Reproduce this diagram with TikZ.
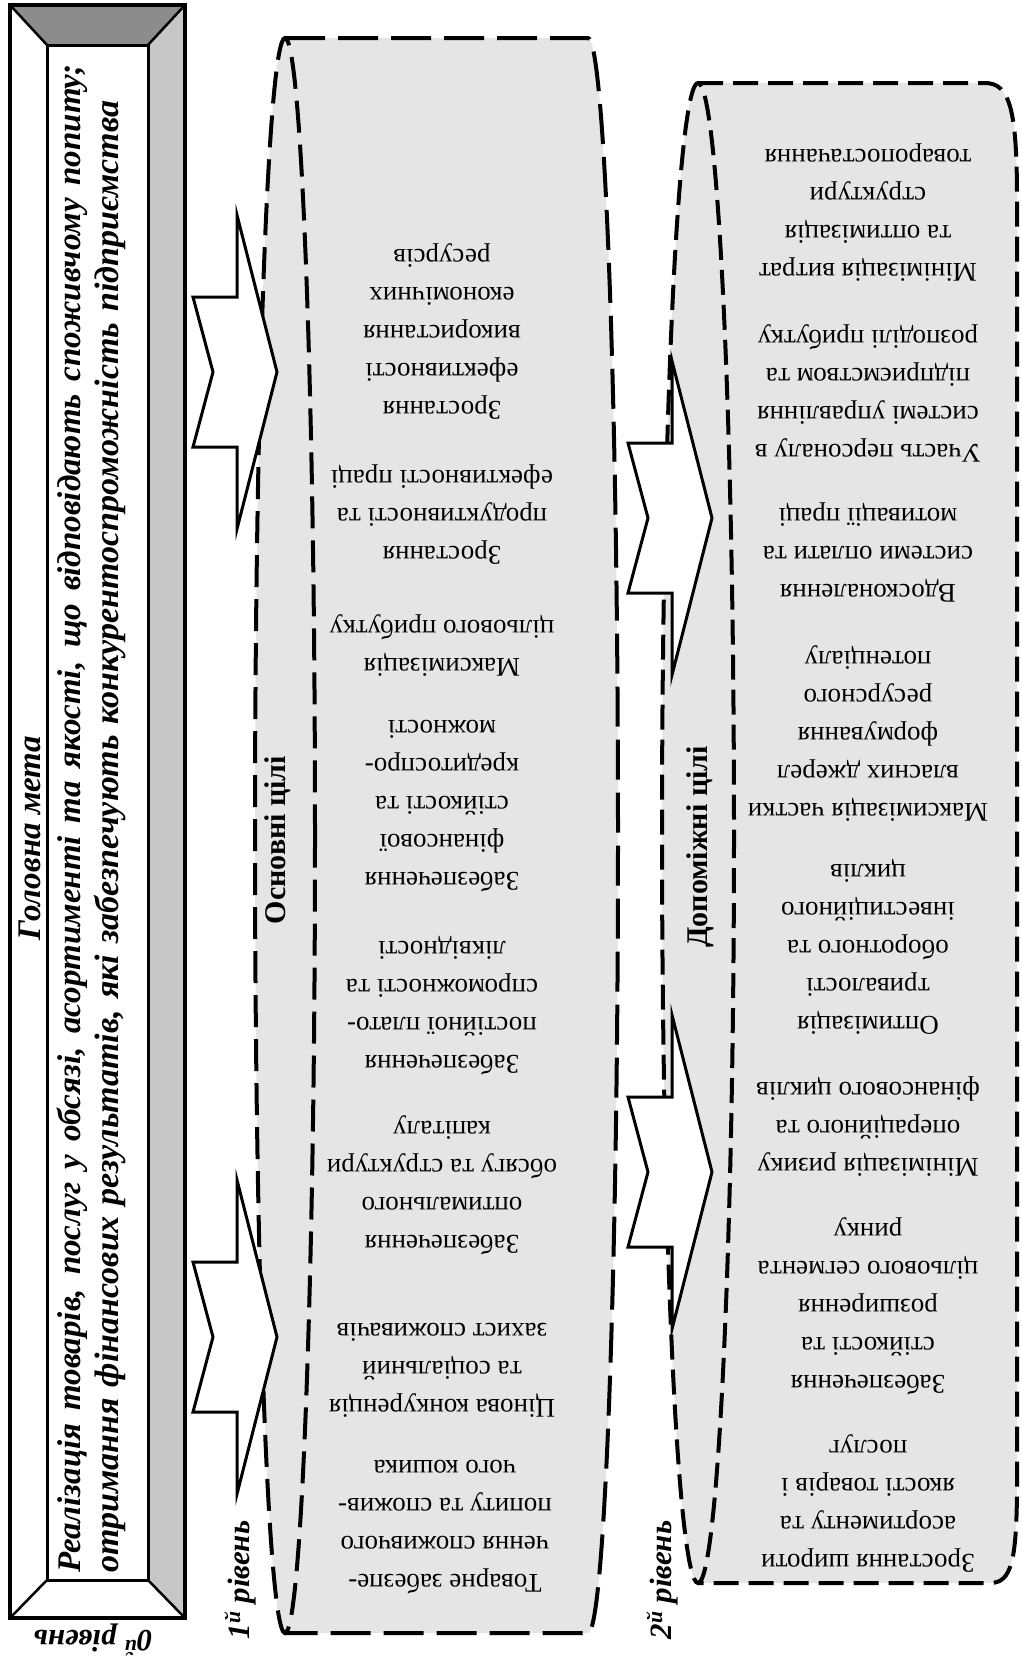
\documentclass[tikz,border=0pt]{standalone}
\usepackage{fontspec}
\setmainfont{Liberation Serif}

\newcommand{\goalfont}{\fontsize{27}{38}\selectfont}
\newcommand{\framefont}{\fontsize{33}{40}\selectfont\bfseries\itshape}
\newcommand{\levelfont}{\fontsize{31}{34}\selectfont\bfseries\itshape}
\newcommand{\groupfont}{\fontsize{30}{34}\selectfont\bfseries}

% notched block arrow: #1 = tail of the shaft, #2 = middle height
\newcommand{\levelarrow}[2]{%
  \draw[blockarrow] (#1,{#2-75}) -- ({#1+44},{#2-75}) -- ({#1+44},{#2-157})
    -- ({#1+84},#2) -- ({#1+44},{#2+157}) -- ({#1+44},{#2+75})
    -- (#1,{#2+75}) -- ({#1+20},#2) -- cycle;}

\begin{document}
\begin{tikzpicture}[
    x = 1pt, y = -1pt, % pixel grid, y runs down
    goal/.style = {align=center, rotate=180, font=\goalfont, inner sep=0pt},
    level/.style = {font=\levelfont, inner sep=0pt},
    group/.style = {rotate=90, font=\groupfont, inner sep=0pt},
    maintext/.style = {rotate=90, font=\framefont, inner sep=0pt},
    cylinder/.style = {fill=black!10},
    rim/.style = {draw=black, line width=4pt},
    blockarrow/.style = {draw=black, fill=white, line width=3pt, line join=miter}
    ]
    \useasboundingbox (0,0) rectangle (1021,1663);

    % level 0: bevelled frame
    \fill[black!45] (10,5) -- (185,5) -- (148,45) -- (47,45) -- cycle;
    \fill[black!22] (185,5) -- (185,1618) -- (148,1580) -- (148,45) -- cycle;
    \draw[line width=2.5pt] (10,5) -- (47,45) (185,5) -- (148,45)
        (10,1618) -- (47,1580) (185,1618) -- (148,1580);
    \draw[line width=4pt] (10,5) rectangle (185,1618);
    \draw[line width=3pt] (47,45) rectangle (148,1580);

    \node[maintext] (head) at (30,838) {Головна мета};
    \node[maintext, anchor=west] (aim1) at (72,1573)
        {\makebox[1508pt][s]{Реалізація товарів, послуг у обсязі, асортименті та якості, що відповідають споживчому попиту;}};
    \node[maintext, anchor=west, font=\fontsize{34}{40}\selectfont\bfseries\itshape] (aim2) at (110,1573)
        {\makebox[1472pt][s]{отримання фінансових результатів, які забезпечують конкурентоспроможність підприємства}};

    % level 1 cylinder
    \fill[cylinder] (285,38) -- (588,38) .. controls (604.6,38) and (618,395.5) .. (618,835.5)
        .. controls (618,1275.5) and (604.6,1633) .. (588,1633) -- (285,1633)
        .. controls (268.4,1633) and (255,1275.5) .. (255,835.5)
        .. controls (255,395.5) and (268.4,38) .. (285,38) -- cycle;
    \draw[rim, dash pattern=on 40pt off 13pt] (285,38) -- (588,38)
        .. controls (604.6,38) and (618,395.5) .. (618,835.5)
        .. controls (618,1275.5) and (604.6,1633) .. (588,1633) -- (285,1633);
    \draw[rim, dash pattern=on 32pt off 12pt] (285,835.5) ellipse [x radius=30, y radius=797.5];

    % level 2 cylinder
    \fill[cylinder] (698,83) -- (985,83) .. controls (1010,83) and (1017,110) .. (1017,200)
        -- (1017,1480) .. controls (1017,1560) and (1012,1583) .. (990,1583) -- (698,1583)
        .. controls (678.1,1583) and (662,1247) .. (662,833)
        .. controls (662,419) and (678.1,83) .. (698,83) -- cycle;
    \draw[rim, dash pattern=on 25pt off 10pt] (698,83) -- (985,83)
        .. controls (1010,83) and (1017,110) .. (1017,200)
        -- (1017,1480) .. controls (1017,1560) and (1012,1583) .. (990,1583) -- (698,1583);
    \draw[rim, dash pattern=on 25pt off 10pt] (698,833) ellipse [x radius=36, y radius=750];

    % arrows between the levels
    \levelarrow{193}{372}
    \levelarrow{193}{1337}
    \levelarrow{628}{518}
    \levelarrow{628}{1172}

    % labels of the levels
    \node[level, rotate=180] (lvl0) at (93,1640) {0\textsuperscript{й} рівень};
    \node[level, rotate=90] (lvl1) at (240,1580) {1\textsuperscript{й} рівень};
    \node[level, rotate=90] (lvl2) at (662,1580) {2\textsuperscript{й} рівень};

    \node[group] (core) at (278,840) {Основні цілі};
    \node[group] (aux) at (700,847) {Допоміжні цілі};

    % main goals
    \node[goal] (c1) at (442,332) {Зростання\\ефективності\\використання\\економічних\\ресурсів};
    \node[goal] (c2) at (442,515) {Зростання\\продуктивності та\\ефективності праці};
    \node[goal] (c3) at (442,646) {Максимізація\\цільового прибутку};
    \node[goal] (c4) at (442,806) {Забезпечення\\фінансової\\стійкості та\\кредитоспро-\\можності};
    \node[goal] (c5) at (442,1006) {Забезпечення\\постійної плато-\\спроможності та\\ліквідності};
    \node[goal] (c6) at (442,1185) {Забезпечення\\оптимального\\обсягу та структури\\капіталу};
    \node[goal] (c7) at (442,1370) {Цінова конкуренція\\та соціальний\\захист споживачів};
    \node[goal] (c8) at (445,1527) {Товарне забезпе-\\чення споживчого\\попиту та спожив-\\чого кошика};

    % auxiliary goals
    \node[goal] (a1) at (868,213) {Мінімізація витрат\\та оптимізація\\структури\\товаропостачання};
    \node[goal] (a2) at (868,393) {Участь персоналу в\\системі управління\\підприємством  та\\розподілі прибутку};
    \node[goal] (a3) at (868,552) {Вдосконалення\\системи оплати та\\мотивації праці};
    \node[goal] (a4) at (868,734) {Максимізація частки\\власних джерел\\формування\\ресурсного\\потенціалу};
    \node[goal] (a5) at (868,947) {Оптимізація\\тривалості\\оборотного та\\інвестиційного\\циклів};
    \node[goal] (a6) at (868,1127) {Мінімізація ризику\\операційного та\\фінансового циклів};
    \node[goal] (a7) at (868,1306) {Забезпечення\\стійкості та\\розширення\\цільового сегмента\\ринку};
    \node[goal] (a8) at (868,1504) {Зростання широти\\асортименту та\\якості товарів і\\послуг};
\end{tikzpicture}
\end{document}
